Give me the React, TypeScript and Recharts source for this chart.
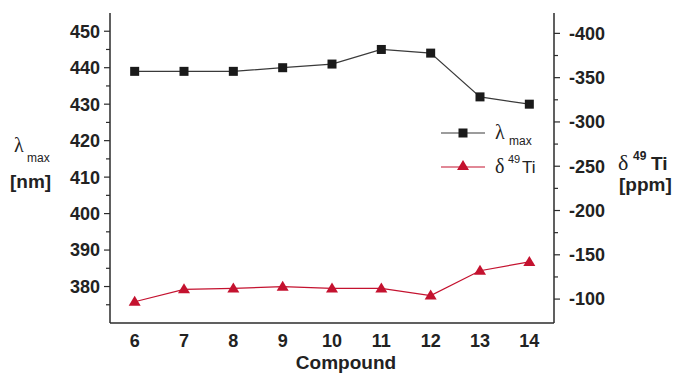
import React from "react";
import { LineChart, Line, XAxis, YAxis } from "recharts";

// compound numbers on the x axis
const compounds = [6, 7, 8, 9, 10, 11, 12, 13, 14];
// lambda max, nm (left axis)
const lambdaMax = [439, 439, 439, 440, 441, 445, 444, 432, 430];
// delta 49Ti, ppm (right axis, reversed)
const deltaTi = [-97, -111, -112, -114, -112, -112, -104, -132, -142];

const leftTicks = [375, 380, 385, 390, 395, 400, 405, 410, 415, 420, 425, 430, 435, 440, 445, 450];
const rightTicks = [-400, -375, -350, -325, -300, -275, -250, -225, -200, -175, -150, -125, -100];

const TEXT = "#222222";
const AXIS = "#2b2b2b";
const BLACK_LINE = "#3a3a3a";
const RED = "#c4122f";
const FONT = "'Liberation Sans', Arial, sans-serif";

const chartData = compounds.map((c, i) => ({
  compound: c,
  lambda: lambdaMax[i],
  delta: deltaTi[i],
}));

const LeftTick = (props: any) => {
  const { x, y, payload } = props;
  const v = payload.value as number;
  const major = v % 10 === 0;
  const ax = x + 10;
  return (
    <g>
      <line x1={ax - (major ? 6 : 4)} x2={ax} y1={y} y2={y} stroke={AXIS} strokeWidth={1.2} />
      {major && (
        <text x={x} y={y} dy="0.355em" textAnchor="end" fill={TEXT} fontSize={18} fontWeight="bold" fontFamily={FONT}>
          {v}
        </text>
      )}
    </g>
  );
};

const RightTick = (props: any) => {
  const { x, y, payload } = props;
  const v = payload.value as number;
  const major = v % 50 === 0;
  const ax = x - 15;
  return (
    <g>
      <line x1={ax} x2={ax + (major ? 6 : 4)} y1={y} y2={y} stroke={AXIS} strokeWidth={1.2} />
      {major && (
        <text x={x} y={y} dy="0.355em" textAnchor="start" fill={TEXT} fontSize={18} fontWeight="bold" fontFamily={FONT}>
          {v}
        </text>
      )}
    </g>
  );
};

const SquareDot = (props: any) => {
  const { cx, cy, index } = props;
  return <rect key={`sq-${index}`} x={cx - 4.5} y={cy - 4.5} width={9} height={9} fill="#1a1a1a" />;
};

const TriangleDot = (props: any) => {
  const { cx, cy, index } = props;
  return (
    <path
      key={`tr-${index}`}
      d={`M${cx},${cy - 6} L${cx + 6},${cy + 4} L${cx - 6},${cy + 4} Z`}
      fill={RED}
    />
  );
};

export default function App() {
  return (
    <div style={{ position: "absolute", left: 0, top: 0, width: 680, height: 373, background: "#fff" }}>
      <LineChart
        width={680}
        height={373}
        data={chartData}
        margin={{ top: 13, right: 0, bottom: 0, left: 0 }}
      >
        <XAxis
          dataKey="compound"
          type="number"
          domain={[5.5, 14.5]}
          ticks={compounds}
          interval={0}
          height={50}
          axisLine={{ stroke: AXIS, strokeWidth: 1.5 }}
          tickLine={false}
          tickSize={6}
          tickMargin={5}
          tick={{ fill: TEXT, fontSize: 18, fontWeight: "bold", fontFamily: FONT }}
        />
        <YAxis
          yAxisId="left"
          orientation="left"
          width={110}
          domain={[370, 455]}
          ticks={leftTicks}
          interval={0}
          allowDataOverflow
          axisLine={{ stroke: AXIS, strokeWidth: 1.5 }}
          tickLine={false}
          tickSize={6}
          tickMargin={4}
          tick={<LeftTick />}
        />
        <YAxis
          yAxisId="right"
          orientation="right"
          width={126}
          domain={[-423, -73]}
          reversed
          ticks={rightTicks}
          interval={0}
          allowDataOverflow
          axisLine={{ stroke: AXIS, strokeWidth: 1.5 }}
          tickLine={false}
          tickSize={6}
          tickMargin={9}
          tick={<RightTick />}
        />
        <Line
          yAxisId="left"
          dataKey="lambda"
          type="linear"
          stroke={BLACK_LINE}
          strokeWidth={1.2}
          dot={SquareDot}
          activeDot={false}
          isAnimationActive={false}
        />
        <Line
          yAxisId="right"
          dataKey="delta"
          type="linear"
          stroke={RED}
          strokeWidth={1.2}
          dot={TriangleDot}
          activeDot={false}
          isAnimationActive={false}
        />
      </LineChart>
      <svg width={680} height={373} style={{ position: "absolute", left: 0, top: 0, pointerEvents: "none" }}>
        {/* left axis title */}
        <text x={14} y={152} fill={TEXT} fontSize={20} fontFamily="'Liberation Serif', serif">
          λ
        </text>
        <text x={27} y={162} fill={TEXT} fontSize={12} fontFamily={FONT}>
          max
        </text>
        <text x={10} y={188} fill={TEXT} fontSize={19} fontWeight="bold" fontFamily={FONT}>
          [nm]
        </text>
        {/* right axis title */}
        <text x={618} y={170} fill={TEXT} fontSize={22} fontFamily="'Liberation Serif', serif">
          δ
        </text>
        <text x={633} y={160} fill={TEXT} fontSize={12} fontWeight="bold" fontFamily={FONT}>
          49
        </text>
        <text x={651} y={170} fill={TEXT} fontSize={19} fontWeight="bold" fontFamily={FONT}>
          Ti
        </text>
        <text x={619} y={191} fill={TEXT} fontSize={19} fontWeight="bold" fontFamily={FONT}>
          [ppm]
        </text>
        {/* x axis title */}
        <text x={346} y={369} textAnchor="middle" fill={TEXT} fontSize={19} fontWeight="bold" fontFamily={FONT}>
          Compound
        </text>
        {/* legend */}
        <line x1={441} x2={485} y1={133} y2={133} stroke={BLACK_LINE} strokeWidth={1.2} />
        <rect x={458.5} y={128.5} width={9} height={9} fill="#1a1a1a" />
        <text x={495} y={139} fill={TEXT} fontSize={20} fontFamily="'Liberation Serif', serif">
          λ
        </text>
        <text x={509} y={145} fill={TEXT} fontSize={12} fontFamily={FONT}>
          max
        </text>
        <line x1={441} x2={485} y1={167} y2={167} stroke={RED} strokeWidth={1.2} />
        <path d="M463,160 L469,170 L457,170 Z" fill={RED} />
        <text x={495} y={173} fill={TEXT} fontSize={20} fontFamily="'Liberation Serif', serif">
          δ
        </text>
        <text x={508} y={163} fill={TEXT} fontSize={11} fontFamily={FONT}>
          49
        </text>
        <text x={522} y={173} fill={TEXT} fontSize={17} fontFamily={FONT}>
          Ti
        </text>
      </svg>
    </div>
  );
}
